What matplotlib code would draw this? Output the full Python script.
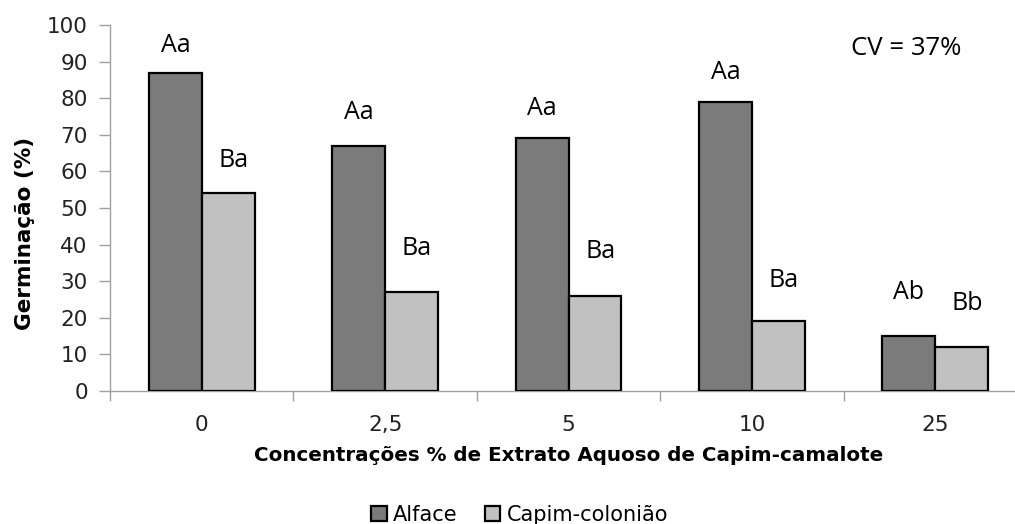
import matplotlib
matplotlib.use("Agg")
import matplotlib.pyplot as plt
import numpy as np

# Germination data by aqueous extract concentration
concentrations = ["0", "2,5", "5", "10", "25"]
alface = [87, 67, 69, 79, 15]
capim_coloniao = [54, 27, 26, 19, 12]
letters_alface = ["Aa", "Aa", "Aa", "Aa", "Ab"]
letters_capim = ["Ba", "Ba", "Ba", "Ba", "Bb"]
yticks = list(range(0, 101, 10))

# Heights (data units) where the letter labels are centred
label_y_alface = [94.5, 76, 77.3, 87, 26.8]
label_y_capim = [63, 38.8, 38, 30.3, 24]

narrow = ["Open Sans", "DejaVu Sans"]
wide = "DejaVu Sans"
plt.rcParams["font.family"] = narrow

fig = plt.figure(figsize=(10.15, 5.24), dpi=100)
ax = fig.add_axes([0.1084, 0.2538, 0.9034, 0.6985])

x = np.arange(len(concentrations))
w = 0.288
dark = "#7b7b7b"
light = "#c1c1c1"
ax.bar(x - w / 2, alface, w, color=dark, edgecolor="black", linewidth=1.6,
       label="Alface", zorder=3)
ax.bar(x + w / 2, capim_coloniao, w, color=light, edgecolor="black",
       linewidth=1.6, label="Capim-colonião", zorder=3)

for i in range(len(x)):
    ax.text(x[i] - w / 2, label_y_alface[i], letters_alface[i], ha="center",
            va="center", fontsize=18, color="black", family=narrow)
    ax.text(x[i] + w / 2 + 0.03, label_y_capim[i], letters_capim[i],
            ha="center", va="center", fontsize=18, color="black",
            family=narrow)

ax.text(3.84, 93.5, "CV = 37%", ha="center", va="center", fontsize=18.5,
        family=narrow)

ax.set_xlim(-0.5, len(x) - 0.5)
ax.set_ylim(0, 100)
ax.set_yticks(yticks)
ax.set_yticklabels([str(t) for t in yticks], family=wide, fontsize=15.5,
                   color="#222222")
ax.set_xticks(x)
ax.set_xticklabels(concentrations, family=wide, fontsize=15.5,
                   color="#222222")
ax.tick_params(axis="x", length=0, pad=17)
ax.set_xticks(np.arange(-0.5, len(x), 1.0), minor=True)
ax.tick_params(axis="x", which="minor", length=7, color="#a0a0a0", width=1)
ax.tick_params(axis="y", length=8, color="#a0a0a0", width=1, pad=8)

for s in ["top", "right"]:
    ax.spines[s].set_visible(False)
for s in ["left", "bottom"]:
    ax.spines[s].set_color("#a0a0a0")
    ax.spines[s].set_linewidth(1)

ax.set_ylabel("Germinação (%)", family=wide, fontsize=15.5, fontweight="bold")
ax.yaxis.set_label_coords(-0.082, 0.43)
ax.set_xlabel("Concentrações % de Extrato Aquoso de Capim-camalote",
              family=wide, fontsize=14.3, fontweight="bold", labelpad=8)

leg = fig.legend(loc="center", bbox_to_anchor=(0.512, 0.017), ncol=2,
                 frameon=False, prop={"family": wide, "size": 15},
                 handlelength=0.75, handleheight=0.75, handletextpad=0.3,
                 columnspacing=1.3)

fig.savefig("out.png", dpi=100)
